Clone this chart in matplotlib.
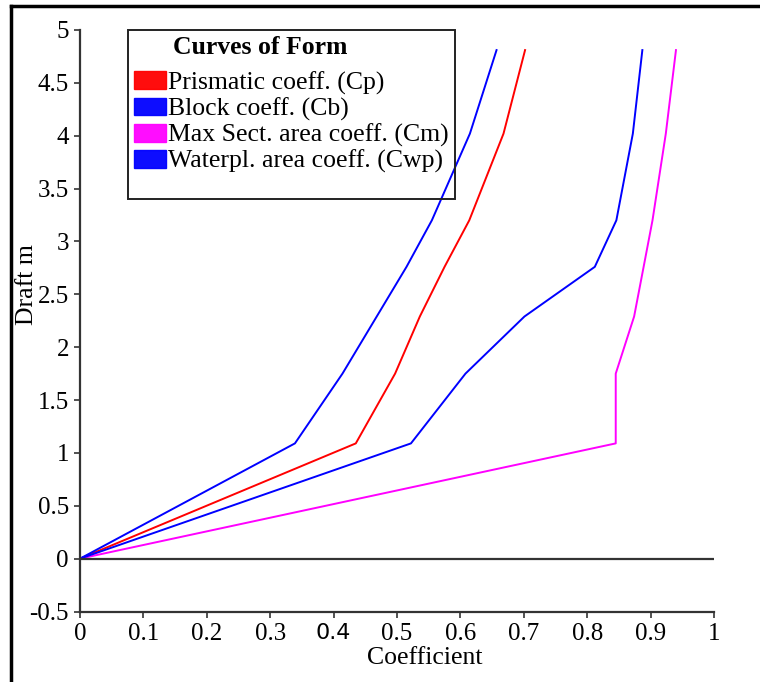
import matplotlib.pyplot as plt
from matplotlib.patches import Patch, Rectangle
from matplotlib.lines import Line2D

# Curves of form data
draft = [0, 1.09, 1.75, 2.29, 2.76, 3.20, 4.02, 4.81]
cp = [0, 0.435, 0.497, 0.536, 0.575, 0.614, 0.668, 0.702]
cb = [0, 0.339, 0.414, 0.468, 0.515, 0.555, 0.615, 0.657]
cm = [0, 0.845, 0.845, 0.874, 0.889, 0.903, 0.924, 0.940]
cwp = [0, 0.522, 0.608, 0.701, 0.812, 0.846, 0.872, 0.887]

labels = ["Prismatic coeff. (Cp)", "Block coeff. (Cb)",
          "Max Sect. area coeff. (Cm)", "Waterpl. area coeff. (Cwp)"]
colors = ["#ff0000", "#0000ff", "#ff00ff", "#0000ff"]

xticks = [0, 0.1, 0.2, 0.3, 0.4, 0.5, 0.6, 0.7, 0.8, 0.9, 1]
xticklabels = ["0", "0.1", "0.2", "0.3", "0.4", "0.5", "0.6", "0.7", "0.8", "0.9", "1"]
yticks = [-0.5, 0, 0.5, 1, 1.5, 2, 2.5, 3, 3.5, 4, 4.5, 5]
yticklabels = ["-0.5", "0", "0.5", "1", "1.5", "2", "2.5", "3", "3.5", "4", "4.5", "5"]

plt.rcParams['font.family'] = ['Liberation Serif', 'DejaVu Serif']

W, H = 760, 682
fig = plt.figure(figsize=(W / 100, H / 100), dpi=100)
ax = fig.add_axes([80 / W, 1 - 611.5 / H, (714 - 80) / W, (611.5 - 30) / H])

for vals, c in zip([cp, cb, cm, cwp], colors):
    ax.plot(vals, draft, color=c, lw=1.4)

ax.plot([0, 1], [0, 0], color="#333333", lw=1.6)

ax.set_xlim(0, 1)
ax.set_ylim(-0.5, 5)
ax.set_xticks(xticks)
ax.set_xticklabels(xticklabels, fontsize=18)
ax.set_yticks(yticks)
ax.set_yticklabels(yticklabels, fontsize=18)
# the 0.4 label is drawn in a different font in the original
for t in ax.get_xticklabels():
    if t.get_text() == "0.4":
        t.set_fontfamily("DejaVu Sans")
        t.set_fontsize(16)
ax.tick_params(direction="out", length=4, width=1.2, color="#333333", pad=4)
ax.spines["top"].set_visible(False)
ax.spines["right"].set_visible(False)
for s in ["left", "bottom"]:
    ax.spines[s].set_linewidth(1.6)
    ax.spines[s].set_color("#333333")

ax.set_xlabel("Coefficient", fontsize=18.5)
ax.set_ylabel("Draft m", fontsize=18.5)
ax.xaxis.set_label_coords(0.544, -0.061)
ax.yaxis.set_label_coords(-0.066, 0.563)

# legend with a plain rectangular box
handles = [Patch(facecolor=c, edgecolor=c, alpha=0.95) for c in colors]
leg = fig.legend(handles, labels, loc="upper left",
                 bbox_to_anchor=(124 / W, 1 - 61 / H), frameon=False,
                 fontsize=18.5, handlelength=1.25, handleheight=0.7,
                 handletextpad=0.05, labelspacing=0.11, borderaxespad=0)
fig.text(173 / W, 1 - 47 / H, "Curves of Form", fontsize=18.5, fontweight="bold",
         ha="left", va="center")
fig.add_artist(Rectangle((128 / W, 1 - 199 / H), (455 - 128) / W, (199 - 30) / H,
                         transform=fig.transFigure, fill=False,
                         edgecolor="#222222", lw=1.4))

# outer frame (top and left only, as cropped)
fig.add_artist(Line2D([11 / W, 1], [1 - 6 / H, 1 - 6 / H], transform=fig.transFigure,
                      color="black", lw=2.5))
fig.add_artist(Line2D([11 / W, 11 / W], [0, 1 - 6 / H], transform=fig.transFigure,
                      color="black", lw=2.5))

fig.savefig("out.png", dpi=100)
